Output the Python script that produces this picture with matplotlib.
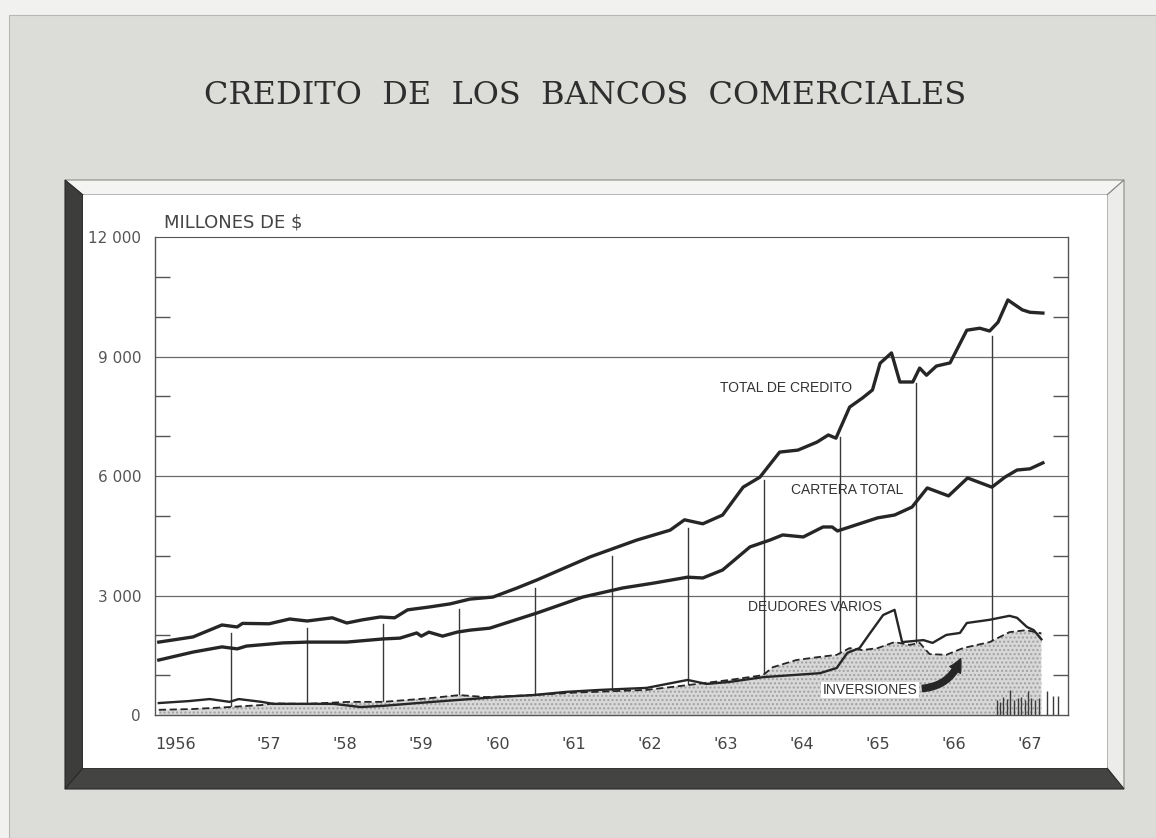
import numpy as np
import matplotlib.pyplot as plt
from matplotlib.patches import Polygon, Rectangle

# values (millones de $), x in decimal years
total_x = [1956.05, 1956.5, 1956.88, 1957.08, 1957.15, 1957.5, 1957.77, 1958.0, 1958.33, 1958.52,
           1958.73, 1958.96, 1959.15, 1959.32, 1959.6, 1959.88, 1960.14, 1960.44, 1960.76, 1961.02,
           1961.72, 1962.33, 1962.77, 1962.96, 1963.2, 1963.46, 1963.73, 1963.95, 1964.21, 1964.45,
           1964.7, 1964.85, 1964.95, 1965.13, 1965.3, 1965.43, 1965.53, 1965.68, 1965.79, 1965.96,
           1966.05, 1966.14, 1966.27, 1966.45, 1966.67, 1966.84, 1966.97, 1967.08, 1967.21, 1967.27,
           1967.4, 1967.5, 1967.67]
total_v = [1830, 1960, 2260, 2210, 2300, 2290, 2410, 2360, 2440, 2310,
           2390, 2460, 2440, 2640, 2710, 2790, 2910, 2960, 3190, 3390,
           3970, 4390, 4640, 4900, 4800, 5020, 5720, 5970, 6600, 6650,
           6850, 7030, 6950, 7730, 7960, 8160, 8830, 9090, 8360, 8360,
           8710, 8530, 8760, 8840, 9660, 9710, 9640, 9860, 10420, 10340,
           10170, 10110, 10090]

cartera_x = [1956.05, 1956.5, 1956.88, 1957.08, 1957.2, 1957.68, 1958.0, 1958.52, 1959.0, 1959.22,
             1959.44, 1959.5, 1959.6, 1959.78, 1959.97, 1960.14, 1960.4, 1961.02, 1961.62, 1962.15,
             1962.55, 1963.0, 1963.2, 1963.46, 1963.82, 1964.08, 1964.25, 1964.52, 1964.78, 1964.9,
             1964.97, 1965.29, 1965.5, 1965.72, 1965.95, 1966.15, 1966.43, 1966.68, 1967.0, 1967.17,
             1967.33, 1967.5, 1967.67]
cartera_v = [1380, 1580, 1710, 1660, 1730, 1810, 1830, 1830, 1910, 1930,
             2060, 1980, 2080, 1980, 2080, 2130, 2180, 2560, 2960, 3190,
             3310, 3460, 3440, 3640, 4220, 4390, 4520, 4470, 4720, 4720,
             4620, 4820, 4950, 5020, 5220, 5700, 5500, 5950, 5720, 5970,
             6150, 6180, 6330]

deudores_x = [1956.05, 1956.45, 1956.72, 1956.98, 1957.1, 1957.4, 1957.55, 1958.0, 1958.35, 1958.7,
              1959.0, 1959.45, 1960.0, 1960.5, 1960.97, 1961.4, 1961.85, 1962.46, 1963.0, 1963.25,
              1963.55, 1963.99, 1964.74, 1964.96, 1965.1, 1965.26, 1965.4, 1965.57, 1965.72, 1965.82,
              1966.1, 1966.22, 1966.4, 1966.58, 1966.67, 1966.97, 1967.23, 1967.33, 1967.46, 1967.55,
              1967.65]
deudores_v = [300, 350, 400, 330, 400, 330, 280, 280, 280, 200,
              230, 300, 380, 450, 500, 580, 630, 680, 880, 780,
              830, 950, 1050, 1180, 1560, 1680, 2060, 2510, 2640, 1830,
              1880, 1810, 2010, 2060, 2310, 2390, 2490, 2440, 2210, 2130,
              1900]

inversiones_x = [1956.05, 1956.5, 1956.98, 1957.4, 1957.55, 1958.0, 1958.55, 1959.0, 1959.6, 1960.0,
                 1960.35, 1960.97, 1961.5, 1962.46, 1963.0, 1963.55, 1963.99, 1964.12, 1964.43, 1964.74,
                 1964.96, 1965.13, 1965.3, 1965.5, 1965.72, 1965.92, 1966.05, 1966.18, 1966.4, 1966.62,
                 1966.97, 1967.23, 1967.45, 1967.65]
inversiones_v = [130, 150, 200, 250, 290, 280, 330, 330, 420, 500,
                 450, 500, 560, 630, 750, 880, 1000, 1200, 1380, 1460,
                 1510, 1680, 1630, 1680, 1830, 1760, 1810, 1530, 1510, 1680,
                 1830, 2080, 2130, 2050]

# little hatch bars drawn at the bottom of 1967
bars_x = [1967.07, 1967.11, 1967.15, 1967.2, 1967.24, 1967.29, 1967.34, 1967.38, 1967.43,
          1967.48, 1967.52, 1967.57, 1967.62, 1967.73, 1967.8, 1967.87]
bars_v = [380, 320, 450, 400, 620, 380, 420, 450, 380, 600, 420, 380, 420, 600, 480, 480]

years = list(range(1956, 1968))
year_labels = ['1956'] + ["'%d" % (y % 100) for y in years[1:]]
yticks = [0, 3000, 6000, 9000, 12000]
ytick_labels = ['0', '3 000', '6 000', '9 000', '12 000']

W, H = 1156, 838
ink = '#262626'

fig = plt.figure(figsize=(W / 100, H / 100), dpi=100, facecolor='#f1f1ef')


def px(points):
    # pixel coords (origin top-left) -> figure fraction
    return [(x / W, 1 - y / H) for x, y in points]


def frame_patch(p):
    p.set_transform(fig.transFigure)
    p.set_zorder(-1)
    fig.patches.append(p)


# photo background and frame
frame_patch(Rectangle((9 / W, 0), 1, 1 - 15 / H, facecolor='#dcdcd8', edgecolor='#b8b8b4', lw=0.8))
frame_patch(Polygon(px([(65, 180), (1124, 180), (1107, 195), (83, 195)]), closed=True,
                    facecolor='#f4f4f2', edgecolor='#8a8a88', lw=0.8))
frame_patch(Polygon(px([(1124, 180), (1124, 789), (1107, 768), (1107, 195)]), closed=True,
                    facecolor='#ececea', edgecolor='#8a8a88', lw=0.8))
frame_patch(Polygon(px([(65, 180), (83, 195), (83, 768), (65, 789)]), closed=True,
                    facecolor='#3d3d3b', edgecolor='#2a2a2a', lw=0.8))
frame_patch(Polygon(px([(65, 789), (83, 768), (1107, 768), (1124, 789)]), closed=True,
                    facecolor='#444442', edgecolor='#2a2a2a', lw=0.8))
frame_patch(Rectangle((83 / W, 1 - 768 / H), (1107 - 83) / W, (768 - 195) / H,
                      facecolor='white', edgecolor='none'))

fig.text(585 / W, 1 - 96 / H, 'CREDITO  DE  LOS  BANCOS  COMERCIALES', ha='center', va='center',
         fontsize=23, family='DejaVu Serif', color='#2e2e2e')

ax = fig.add_axes([155 / W, 1 - 715 / H, (1068 - 155) / W, (715 - 237) / H])
ax.set_facecolor('none')
ax.set_xlim(1956, 1968)
ax.set_ylim(0, 12000)

for s in ax.spines.values():
    s.set_color('#555555')
    s.set_linewidth(1.0)
ax.spines['top'].set_linewidth(0.8)

for v in yticks[1:-1]:
    ax.axhline(v, color='#6a6a6a', lw=0.9, zorder=1)

# year dividers, stopping just under the total line
for y in years[1:]:
    top = np.interp(y, total_x, total_v) - 180
    ax.plot([y, y], [0, top], color='#3a3a3a', lw=1.0, zorder=1)

ax.fill_between(inversiones_x, 0, inversiones_v, facecolor='#d8d8d8', edgecolor='#a0a0a0',
                hatch='....', lw=0, zorder=2)
ax.vlines(bars_x, 0, bars_v, color='#3a3a3a', lw=1.0, zorder=3)

ax.plot(total_x, total_v, color=ink, lw=2.4, solid_joinstyle='round', zorder=4)
ax.plot(cartera_x, cartera_v, color=ink, lw=2.4, solid_joinstyle='round', zorder=4)
ax.plot(deudores_x, deudores_v, color=ink, lw=1.7, zorder=4)
ax.plot(inversiones_x, inversiones_v, color=ink, lw=1.3, dashes=(4, 2), zorder=4)

lab = dict(fontsize=10, family='Liberation Sans', color='#333333', ha='center', va='center', zorder=5)
ax.text(1964.3, 8210, 'TOTAL DE CREDITO', **lab)
ax.text(1965.1, 5650, 'CARTERA TOTAL', **lab)
ax.text(1964.67, 2710, 'DEUDORES VARIOS', **lab)
ax.text(1965.4, 630, 'INVERSIONES', bbox=dict(facecolor='white', edgecolor='none', pad=1), **lab)
ax.annotate('', xy=(1966.6, 1480), xytext=(1966.05, 660),
            arrowprops=dict(arrowstyle='simple,head_width=0.9,head_length=0.9,tail_width=0.45',
                            connectionstyle='arc3,rad=0.35', color=ink), zorder=5)

ax.text(0.01, 1.012, 'MILLONES DE $', transform=ax.transAxes, fontsize=13, family='DejaVu Sans',
        color='#444444', ha='left', va='bottom')

ax.set_yticks(yticks)
ax.set_yticklabels(ytick_labels, fontsize=11, color='#555555')
ax.set_yticks(range(0, 12001, 1000), minor=True)
ax.tick_params(axis='y', which='major', length=0, pad=10)
ax.tick_params(axis='y', which='minor', direction='in', length=11, width=1.0, color='#555555',
               left=True, right=True)

xpos = [y + 0.5 for y in years]
xpos[0] = 1956.27
ax.set_xticks(xpos)
ax.set_xticklabels(year_labels, fontsize=11.5, color='#444444')
ax.tick_params(axis='x', length=0, pad=16)

fig.savefig('out.png', dpi=100, facecolor=fig.get_facecolor())
